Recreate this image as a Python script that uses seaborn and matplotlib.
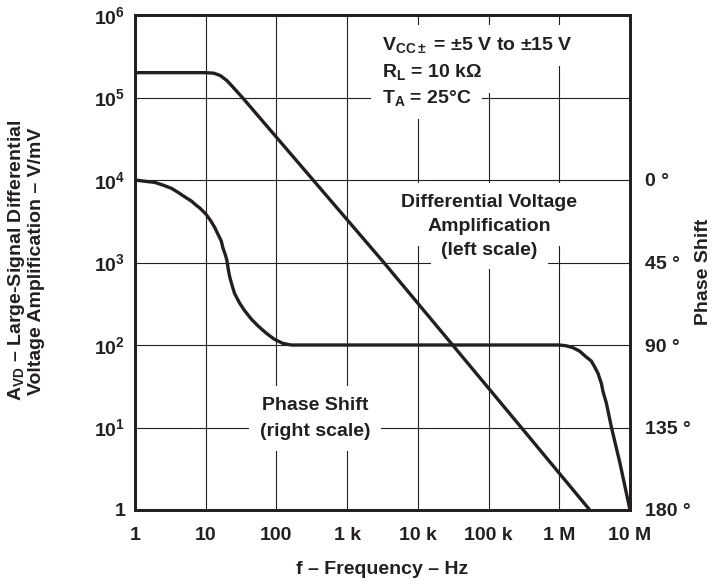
import matplotlib
matplotlib.use("Agg")
import matplotlib.pyplot as plt
from matplotlib.ticker import NullLocator, FixedLocator, FixedFormatter
import pandas as pd
import seaborn as sns

# Open-loop differential voltage amplification (V/mV) versus frequency (Hz)
gain_freq = [1, 10, 13, 16, 20, 25, 33, 330, 3.3e3, 3.1e4, 2.9e5, 2.7e6]
gain_vals = [2e5, 2e5, 1.97e5, 1.85e5, 1.6e5, 1.3e5, 1e5, 1e4, 1e3, 1e2, 10, 1]

# Phase shift (degrees) versus frequency (Hz)
phase_freq = [1, 1.38, 1.9, 2.5, 3.3, 4.08, 5.06, 6.28, 7.4, 8.2, 10, 11.76,
              13.4, 15.7, 16.6, 17.5, 18.9, 19.8, 20.2, 20.9, 21.8, 23.5,
              25.6, 30.1, 35.4, 44.0, 54.6, 71.5, 93.7, 123, 161,
              1e6, 1.24e6, 1.55e6, 1.93e6, 2.4e6, 2.83e6, 3.16e6, 3.53e6,
              3.94e6, 4.16e6, 4.64e6, 5.47e6, 7.2e6, 1e7]
phase_deg = [0, 0.7, 1.3, 2.8, 4.6, 6.8, 9.2, 11.5, 13.9, 15.2, 18.5, 22.2,
             25.9, 31.4, 33.3, 37.0, 40.7, 43.4, 45.3, 49.0, 52.7, 57.3,
             61.9, 67.1, 71.2, 75.8, 79.5, 83.5, 86.9, 89.1, 90,
             90, 90.4, 91.4, 93.3, 96.5, 98.7, 101.9, 105.5,
             111, 115.5, 121.8, 135, 154.3, 180]

freq_ticks = [1, 10, 100, 1e3, 1e4, 1e5, 1e6, 1e7]
freq_labels = ["1", "10", "100", "1 k", "10 k", "100 k", "1 M", "10 M"]
gain_ticks = [1, 10, 100, 1e3, 1e4, 1e5, 1e6]
gain_labels = ["1", r"$\mathbf{10^{1}}$", r"$\mathbf{10^{2}}$", r"$\mathbf{10^{3}}$",
               r"$\mathbf{10^{4}}$", r"$\mathbf{10^{5}}$", r"$\mathbf{10^{6}}$"]
phase_ticks = [0, 45, 90, 135, 180]
phase_labels = ["0 °", "45 °", "90 °", "135 °", "180 °"]

gain_df = pd.DataFrame({"freq": gain_freq, "gain": gain_vals})
phase_df = pd.DataFrame({"freq": phase_freq, "phase": phase_deg})

sns.set_style("white")
plt.rcParams["font.family"] = ["Liberation Sans", "DejaVu Sans"]
plt.rcParams["font.weight"] = "bold"
plt.rcParams["mathtext.fontset"] = "custom"
plt.rcParams["mathtext.rm"] = "Liberation Sans"
plt.rcParams["mathtext.bf"] = "Liberation Sans:bold"
plt.rcParams["mathtext.default"] = "bf"

ink = "#231f20"
fs = 14

fig = plt.figure(figsize=(7.12, 5.84), dpi=100)
ax = fig.add_axes([135 / 712, 1 - 510 / 584, 495 / 712, 495 / 584])

ax.set_xscale("log")
ax.set_yscale("log")
sns.lineplot(data=gain_df, x="freq", y="gain", ax=ax, color=ink, lw=2.4,
             estimator=None, sort=False, zorder=4)

# Phase curve on the right-hand scale (shares the frequency axis)
ax2 = ax.twinx()
sns.lineplot(data=phase_df, x="freq", y="phase", ax=ax2, color=ink, lw=2.4,
             estimator=None, sort=False)
ax2.set_ylim(180, -90)
ax2.set_yticks(phase_ticks)
ax2.set_yticklabels(phase_labels)
ax2.tick_params(axis="y", length=0, pad=11, labelsize=fs, colors=ink)
for lab in ax2.get_yticklabels():
    lab.set_fontweight("bold")
ax2.set_ylabel("")
ax2.grid(False)
for sp in ax2.spines.values():
    sp.set_color(ink)
    sp.set_linewidth(2.0)

ax.set_xlim(1, 1e7)
ax.set_ylim(1, 1e6)
ax.xaxis.set_major_locator(FixedLocator(freq_ticks))
ax.xaxis.set_major_formatter(FixedFormatter(freq_labels))
ax.yaxis.set_major_locator(FixedLocator(gain_ticks))
ax.yaxis.set_major_formatter(FixedFormatter(gain_labels))
ax.xaxis.set_minor_locator(NullLocator())
ax.yaxis.set_minor_locator(NullLocator())
ax.tick_params(axis="x", length=0, pad=12, labelsize=fs, colors=ink)
ax.tick_params(axis="y", length=0, pad=7, labelsize=fs, colors=ink)
for lab in ax.get_xticklabels() + ax.get_yticklabels():
    lab.set_fontweight("bold")
ax.grid(True, which="major", color=ink, lw=0.8)
ax.set_axisbelow(True)
ax.set_xlabel("")
ax.set_ylabel("")
ax2.set_xlabel("")
for sp in ax.spines.values():
    sp.set_color(ink)
    sp.set_linewidth(2.0)

box = dict(facecolor="white", edgecolor="none", boxstyle="square,pad=0.55")


def boxed_label(x, y, txt, ha):
    # white knock-out behind the words, then the words on top of every knock-out
    ax.text(x, y, txt, transform=ax.transAxes, ha=ha, va="center", fontsize=fs,
            fontweight="bold", color=(1, 1, 1, 0), bbox=box, zorder=2.5)
    ax.text(x, y, txt, transform=ax.transAxes, ha=ha, va="center", fontsize=fs,
            fontweight="bold", color=ink, zorder=3)


# Test conditions
cond = [r"$\mathbf{V_{CC\pm}}$ = ±5 V to ±15 V",
        r"$\mathbf{R_{L}}$ = 10 kΩ",
        r"$\mathbf{T_{A}}$ = 25°C"]
for txt, yy in zip(cond, [0.939, 0.885, 0.832]):
    boxed_label(0.499, yy, txt, "left")

# Curve captions
for txt, yy in zip(["Differential Voltage", "Amplification", "(left scale)"],
                   [0.622, 0.572, 0.525]):
    boxed_label(0.716, yy, txt, "center")
for txt, yy in zip(["Phase Shift", "(right scale)"], [0.212, 0.158]):
    boxed_label(0.364, yy, txt, "center")

# Axis titles
fig.text(382 / 712, 1 - 570 / 584, "f – Frequency – Hz", ha="center", va="center",
         fontsize=fs, fontweight="bold", color=ink)
fig.text(17 / 712, 1 - 260 / 584, r"$\mathbf{A_{VD}}$ – Large-Signal Differential",
         rotation=90, ha="center", va="center", fontsize=fs, fontweight="bold", color=ink)
fig.text(37 / 712, 1 - 261 / 584, "Voltage Amplification – V/mV",
         rotation=90, ha="center", va="center", fontsize=fs, fontweight="bold", color=ink)
fig.text(703 / 712, 1 - 272 / 584, "Phase Shift", rotation=90, ha="center",
         va="center", fontsize=fs, fontweight="bold", color=ink)

fig.savefig("out.png", dpi=100)
